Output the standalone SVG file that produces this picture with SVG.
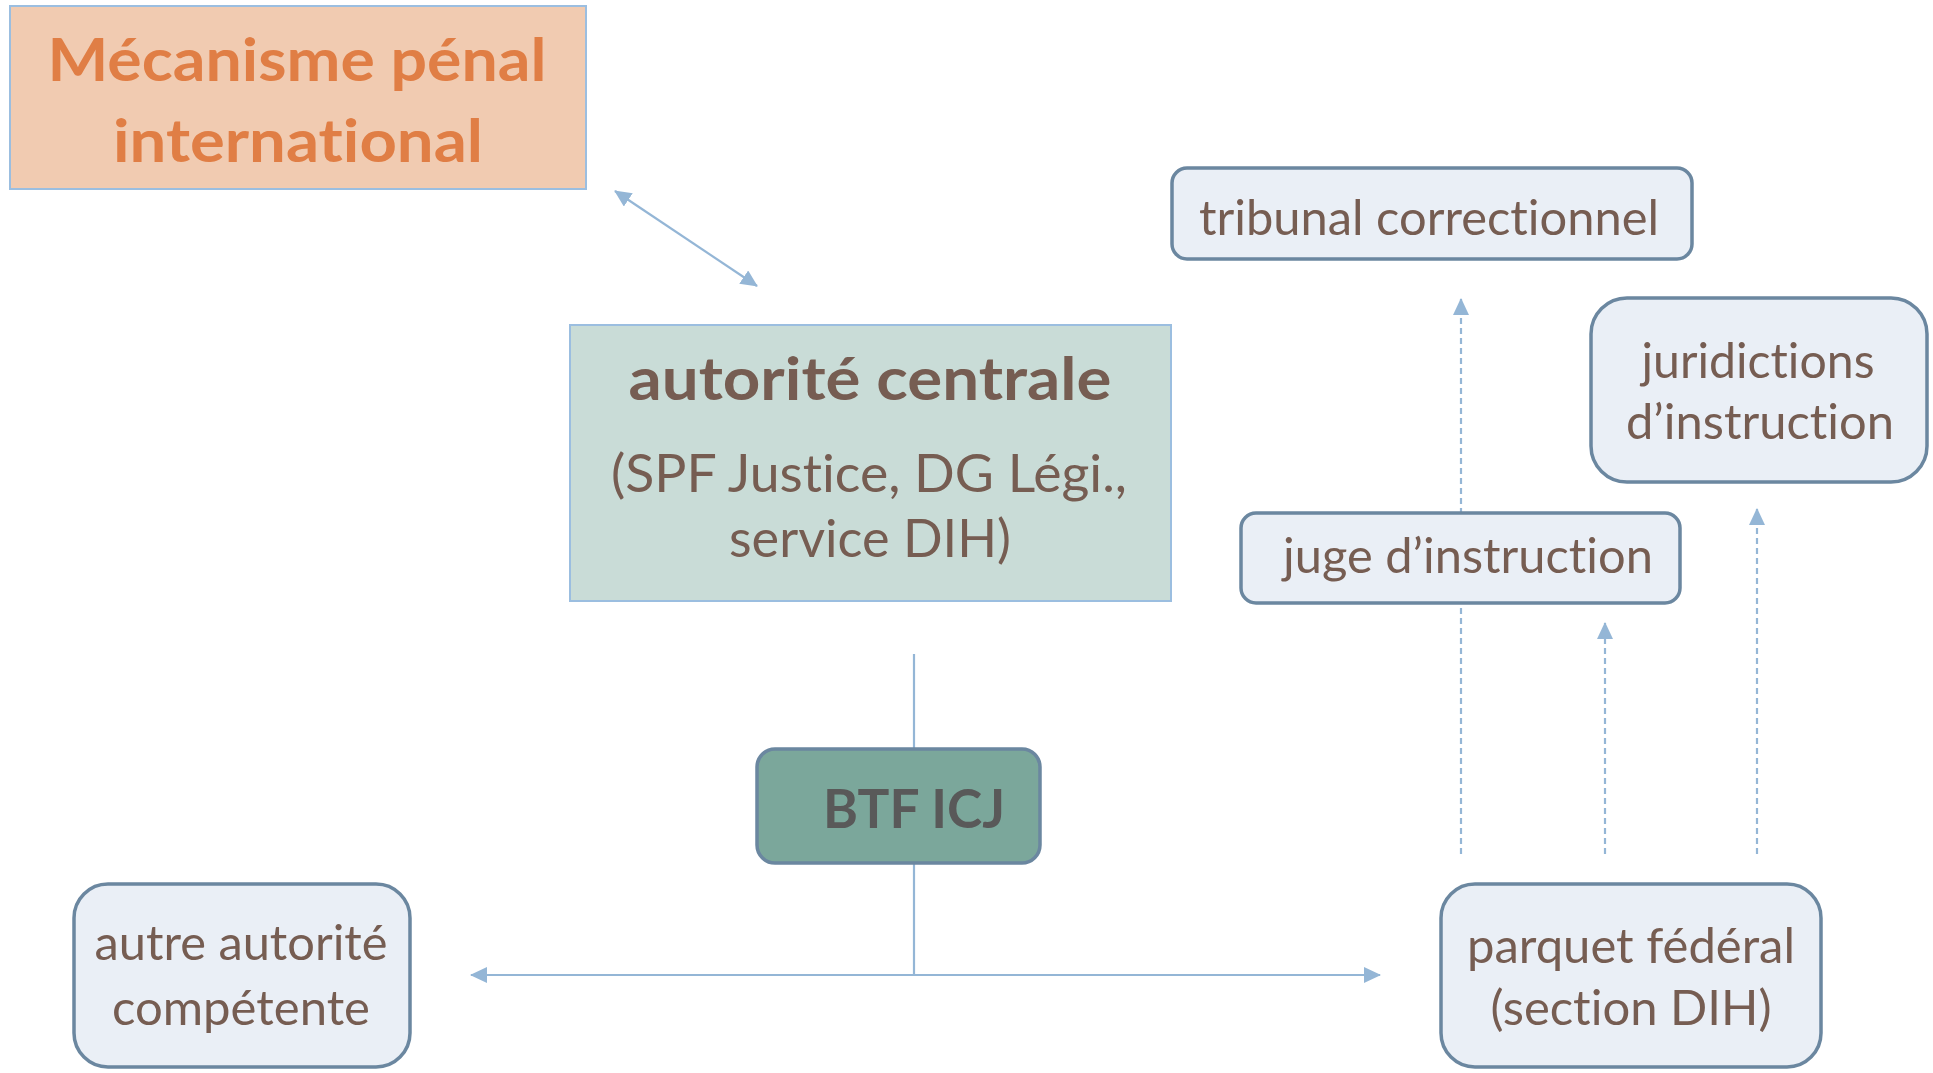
<svg xmlns="http://www.w3.org/2000/svg" width="1933" height="1073" viewBox="0 0 1933 1073">
<style>
.bg{fill:#ffffff}
.node{fill:#EAEFF6;stroke:#6B87A0;stroke-width:3.5}
text{font-variant-ligatures:none;font-feature-settings:"liga" 0,"clig" 0}
.lbl{font-family:Lato,"Open Sans","Liberation Sans",sans-serif;font-size:48px;fill:#765D52;text-anchor:middle}
.big{font-family:Lato,"Open Sans","Liberation Sans",sans-serif;font-weight:bold;font-size:60px;text-anchor:middle}
.conn{stroke:#94B6D6;stroke-width:2.2;fill:none}
.dash{stroke-dasharray:6 4}
</style>
<defs>
<marker id="ah" viewBox="0 0 17 16" refX="16" refY="8" markerWidth="17" markerHeight="16" markerUnits="userSpaceOnUse" orient="auto-start-reverse">
<path d="M0,0 L17,8 L0,16 z" fill="#94B6D6"/>
</marker>
</defs>
<rect class="bg" x="0" y="0" width="1933" height="1073"/>
<g id="connectors">
<line class="conn" x1="615" y1="191" x2="757" y2="286" marker-start="url(#ah)" marker-end="url(#ah)"/>
<line class="conn" x1="914" y1="654" x2="914" y2="975"/>
<line class="conn" x1="471" y1="975" x2="1380" y2="975" marker-start="url(#ah)" marker-end="url(#ah)"/>
<line class="conn dash" x1="1461" y1="854" x2="1461" y2="299" marker-end="url(#ah)"/>
<line class="conn dash" x1="1605" y1="854" x2="1605" y2="623" marker-end="url(#ah)"/>
<line class="conn dash" x1="1757" y1="854" x2="1757" y2="509" marker-end="url(#ah)"/>
</g>
<g id="mecanisme">
<rect x="10" y="6" width="576" height="183" fill="#F1CBB1" stroke="#9BBEE0" stroke-width="2"/>
<text class="big" x="297" y="81" fill="#E07E45" textLength="499" lengthAdjust="spacingAndGlyphs">Mécanisme pénal</text>
<text class="big" x="298" y="162" fill="#E07E45" textLength="370" lengthAdjust="spacingAndGlyphs">international</text>
</g>
<g id="autorite-centrale">
<rect x="570" y="325" width="601" height="276" fill="#C9DCD7" stroke="#9BBEE0" stroke-width="2"/>
<text class="big" x="870" y="400" fill="#765D52" textLength="483" lengthAdjust="spacingAndGlyphs">autorité centrale</text>
<text class="lbl" x="869" y="492" style="font-size:52px" textLength="516" lengthAdjust="spacingAndGlyphs">(SPF Justice, DG Légi.,</text>
<text class="lbl" x="870" y="557" style="font-size:52px" textLength="282" lengthAdjust="spacingAndGlyphs">service DIH)</text>
</g>
<g id="btf-icj">
<rect x="757" y="749" width="283" height="114" rx="18" fill="#7BA79B" stroke="#6B87A0" stroke-width="3.5"/>
<text class="big" x="914" y="828" style="font-size:54px" fill="#595959" textLength="182" lengthAdjust="spacingAndGlyphs">BTF ICJ</text>
</g>
<g id="autre-autorite">
<rect class="node" x="74" y="884" width="336" height="183" rx="34"/>
<text class="lbl" x="241" y="960" textLength="293" lengthAdjust="spacingAndGlyphs">autre autorité</text>
<text class="lbl" x="241" y="1025" textLength="258" lengthAdjust="spacingAndGlyphs">compétente</text>
</g>
<g id="parquet-federal">
<rect class="node" x="1441" y="884" width="380" height="183" rx="34"/>
<text class="lbl" x="1631" y="963" textLength="328" lengthAdjust="spacingAndGlyphs">parquet fédéral</text>
<text class="lbl" x="1631" y="1025" textLength="281" lengthAdjust="spacingAndGlyphs">(section DIH)</text>
</g>
<g id="tribunal-correctionnel">
<rect class="node" x="1172" y="168" width="520" height="91" rx="15"/>
<text class="lbl" x="1429" y="235" textLength="460" lengthAdjust="spacingAndGlyphs">tribunal correctionnel</text>
</g>
<g id="juridictions-instruction">
<rect class="node" x="1591" y="298" width="336" height="184" rx="36"/>
<text class="lbl" x="1758" y="378" textLength="233" lengthAdjust="spacingAndGlyphs">juridictions</text>
<text class="lbl" x="1760" y="439" textLength="268" lengthAdjust="spacingAndGlyphs">d’instruction</text>
</g>
<g id="juge-instruction">
<rect class="node" x="1241" y="513" width="439" height="90" rx="15"/>
<text class="lbl" x="1468" y="573" textLength="370" lengthAdjust="spacingAndGlyphs">juge d’instruction</text>
</g>
</svg>
